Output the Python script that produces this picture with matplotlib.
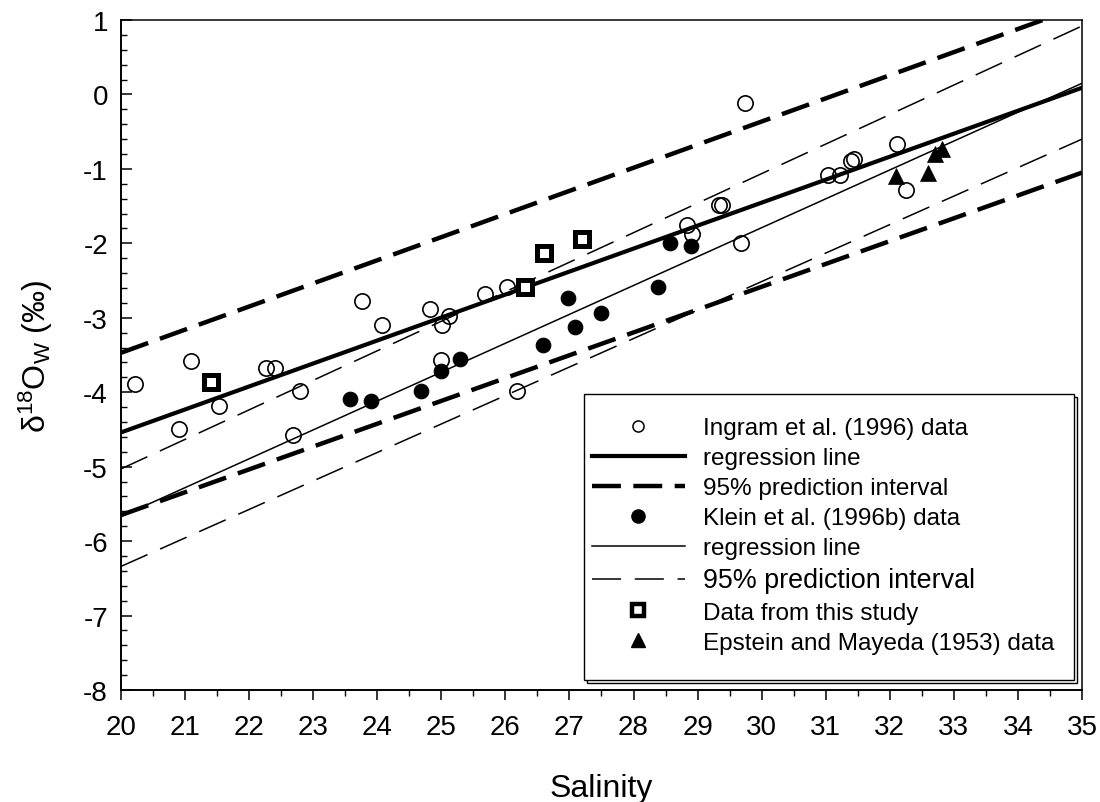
import matplotlib
matplotlib.use("Agg")
import matplotlib.pyplot as plt
from matplotlib.lines import Line2D
from matplotlib.patches import Rectangle

plt.rcParams['font.family'] = ['Liberation Sans', 'DejaVu Sans']
plt.rcParams['mathtext.fontset'] = 'custom'
plt.rcParams['mathtext.rm'] = 'Liberation Sans'
plt.rcParams['mathtext.it'] = 'Liberation Sans:italic'
plt.rcParams['axes.unicode_minus'] = False

# ---- data ----
ingram_x = [20.22, 20.90, 21.09, 21.53, 22.27, 22.40, 22.68, 22.79, 23.76, 24.08,
            24.83, 24.99, 25.01, 25.12, 25.68, 26.02, 26.18, 28.83, 28.92, 29.33,
            29.38, 29.68, 29.74, 31.04, 31.23, 31.40, 31.44, 32.11, 32.26]
ingram_y = [-3.89, -4.49, -3.58, -4.19, -3.68, -3.68, -4.58, -3.98, -2.77, -3.10,
            -2.88, -3.57, -3.10, -2.98, -2.68, -2.58, -3.98, -1.76, -1.87, -1.48,
            -1.48, -1.99, -0.11, -1.08, -1.08, -0.89, -0.87, -0.67, -1.28]

klein_x = [23.58, 23.90, 24.68, 24.99, 25.29, 26.58, 26.98, 27.09, 27.49, 28.39,
           28.57, 28.89]
klein_y = [-4.09, -4.12, -3.98, -3.71, -3.55, -3.36, -2.74, -3.12, -2.93, -2.58,
           -2.00, -2.03]

study_x = [21.40, 26.31, 26.61, 27.20]
study_y = [-3.86, -2.59, -2.13, -1.94]

epstein_x = [32.10, 32.60, 32.70, 32.81]
epstein_y = [-1.09, -1.06, -0.80, -0.73]

line_x = [20, 35]
ingram_reg = [-4.54, 0.09]
ingram_pi_up = [-3.47, 1.19]
ingram_pi_lo = [-5.65, -1.05]
klein_reg = [-5.67, 0.15]
klein_pi_up = [-5.03, 0.92]
klein_pi_lo = [-6.34, -0.60]

labels = ["Ingram et al. (1996) data", "regression line", "95% prediction interval",
          "Klein et al. (1996b) data", "regression line", "95% prediction interval",
          "Data from this study", "Epstein and Mayeda (1953) data"]

x_ticks = list(range(20, 36))
y_ticks = list(range(-8, 2))

# ---- figure ----
fig = plt.figure(figsize=(11, 8.03), dpi=100)
ax = fig.add_axes([0.110, 0.1395, 0.8736, 0.8343])

thick_dash = (6.5, 2.8)
thin_dash = (19, 9)

ax.plot(line_x, ingram_reg, color='black', lw=3.0, zorder=3)
ax.plot(line_x, ingram_pi_up, color='black', lw=3.2, dashes=thick_dash, zorder=3)
ax.plot(line_x, ingram_pi_lo, color='black', lw=3.2, dashes=thick_dash, zorder=3)
ax.plot(line_x, klein_reg, color='black', lw=1.1, zorder=3)
ax.plot(line_x, klein_pi_up, color='black', lw=1.1, dashes=thin_dash, zorder=3)
ax.plot(line_x, klein_pi_lo, color='black', lw=1.1, dashes=thin_dash, zorder=3)

ax.plot(ingram_x, ingram_y, 'o', ms=11, mfc='none', mec='black', mew=1.2, zorder=4)
ax.plot(klein_x, klein_y, 'o', ms=10.5, mfc='black', mec='black', mew=0.8, zorder=4)
ax.plot(study_x, study_y, 's', ms=10, mfc='white', mec='black', mew=3.6, zorder=5)
ax.plot(epstein_x, epstein_y, '^', ms=12, mfc='black', mec='black', mew=0.5, zorder=5)

ax.set_xlim(20, 35)
ax.set_ylim(-8, 1)
ax.set_xticks(x_ticks)
ax.set_yticks(y_ticks)
ax.set_xticks([v + 0.5 for v in x_ticks[:-1]], minor=True)
ax.set_yticks([y_ticks[0] + 0.2 * i for i in range(46)], minor=True)

for s in ax.spines.values():
    s.set_linewidth(1.1)
ax.spines['bottom'].set_linewidth(1.4)
ax.spines['left'].set_linewidth(1.4)

ax.tick_params(axis='x', which='major', direction='out', length=7, width=1.1,
               labelsize=20, pad=10, top=False)
ax.tick_params(axis='x', which='minor', direction='out', length=4, width=1.0, top=False)
ax.tick_params(axis='y', which='major', direction='in', length=8, width=1.1,
               labelsize=20, pad=9.4, right=False)
ax.tick_params(axis='y', which='minor', direction='in', length=4.3, width=1.0, right=False)

ax.set_xlabel('Salinity', fontsize=23, labelpad=24)
ax.set_ylabel(r'$\mathregular{\delta^{18}O_W}$ (‰)', fontsize=23, labelpad=20)

# legend box with outline shadow
bx0, by0, bx1, by1 = 0.482, 0.015, 0.992, 0.442
dx, dy = 3 / 961, 3 / 670
ax.add_patch(Rectangle((bx0 + dx, by0 - dy), bx1 - bx0, by1 - by0, transform=ax.transAxes,
                       facecolor='white', edgecolor='black', lw=1.0, zorder=6, clip_on=False))
ax.add_patch(Rectangle((bx0, by0), bx1 - bx0, by1 - by0, transform=ax.transAxes,
                       facecolor='white', edgecolor='black', lw=1.0, zorder=7, clip_on=False))

handles = [
    Line2D([], [], ls='none', marker='o', ms=8, mfc='none', mec='black', mew=1.1),
    Line2D([], [], color='black', lw=3.0),
    Line2D([], [], color='black', lw=3.2, dashes=thick_dash),
    Line2D([], [], ls='none', marker='o', ms=9.5, mfc='black', mec='black'),
    Line2D([], [], color='black', lw=1.1),
    Line2D([], [], color='black', lw=1.1, dashes=thin_dash),
    Line2D([], [], ls='none', marker='s', ms=8, mfc='white', mec='black', mew=3.2),
    Line2D([], [], ls='none', marker='^', ms=10.5, mfc='black', mec='black'),
]
leg = ax.legend(handles, labels, loc='upper left', bbox_to_anchor=(0.490, 0.407),
                frameon=False, fontsize=17.5, handlelength=3.83, handletextpad=0.74,
                borderpad=0, borderaxespad=0, labelspacing=0.33, numpoints=1)
leg.set_zorder(8)
leg.get_texts()[5].set_fontsize(19.4)

fig.savefig('out.png', dpi=100)
